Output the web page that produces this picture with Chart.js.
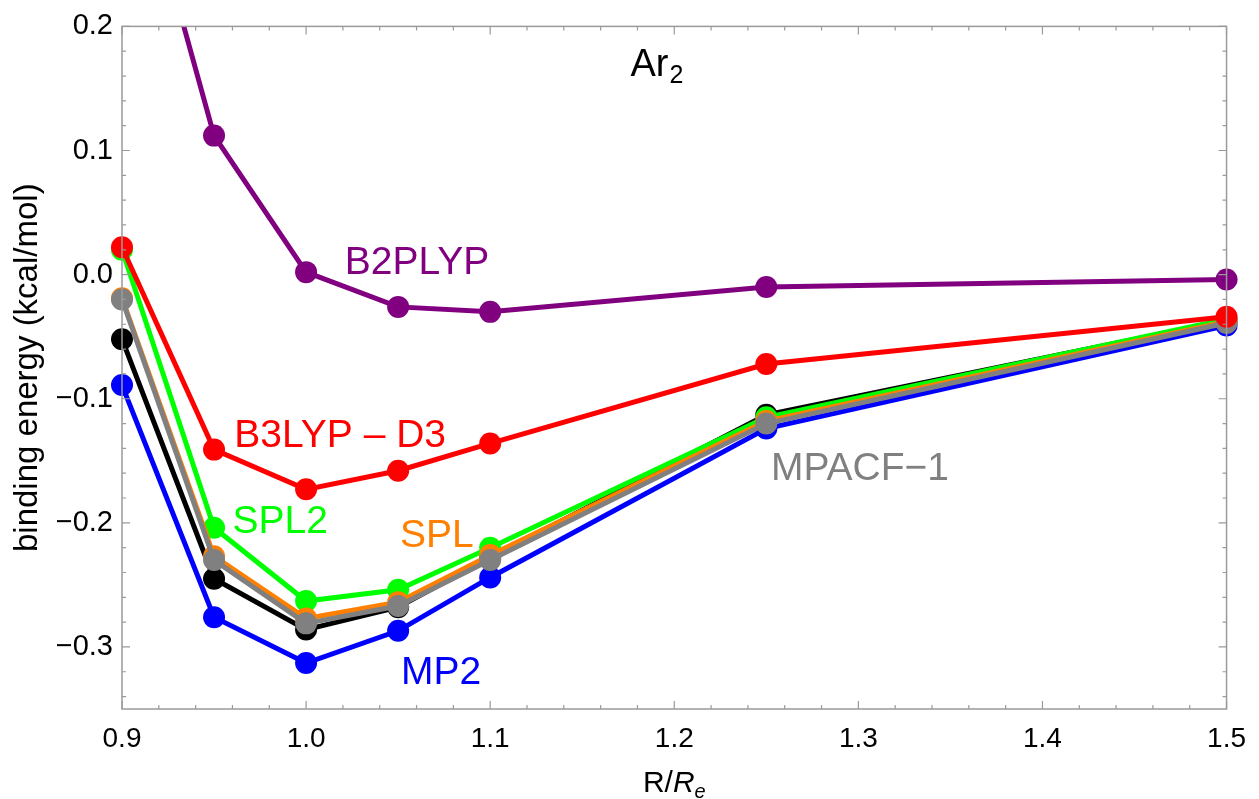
<!DOCTYPE html>
<html>
<head>
<meta charset="utf-8">
<script src="https://cdn.jsdelivr.net/npm/chart.js@4"></script>
<style>
  body { margin: 0; background: #fff; }
  #wrap { width: 1259px; height: 799px; }
</style>
</head>
<body>
<div id="wrap"><canvas id="chart" width="1259" height="799"></canvas></div>
<script>
// distances R/Re
const xs = [0.9, 0.95, 1.0, 1.05, 1.1, 1.25, 1.5];

// binding energies (kcal/mol)
const b2plyp = [0.38, 0.112, 0.002, -0.026, -0.030, -0.010, -0.004];
const b3lypD3 = [0.022, -0.141, -0.173, -0.158, -0.136, -0.072, -0.034];
const mp2 = [-0.089, -0.276, -0.313, -0.287, -0.244, -0.124, -0.041];
const reference = [-0.052, -0.245, -0.286, -0.268, -0.228, -0.113, -0.037];
const spl2 = [0.020, -0.204, -0.263, -0.254, -0.220, -0.115, -0.036];
const spl = [-0.019, -0.227, -0.277, -0.264, -0.226, -0.118, -0.038];
const mpacf1 = [-0.020, -0.230, -0.281, -0.267, -0.230, -0.120, -0.039];

const xTicks = [0.9, 1.0, 1.1, 1.2, 1.3, 1.4, 1.5];
const yTicks = [-0.3, -0.2, -0.1, 0.0, 0.1, 0.2];

// curve labels placed in data coordinates [text, x, y, colour]
const curveLabels = [
    ['B2PLYP', 1.021, 0.0006, '#800080'],
    ['B3LYP \u2013 D3', 0.961, -0.1385, '#ff0000'],
    ['SPL2', 0.960, -0.2085, '#00ff00'],
    ['SPL', 1.051, -0.2198, '#ff7f00'],
    ['MPACF\u22121', 1.2525, -0.1651, '#808080'],
    ['MP2', 1.0516, -0.3299, '#0000ff']
];

const FONT = "'Liberation Sans', Arial, sans-serif";
const FRAME = '#9a9a9a';

function series(label, ys, color, clip) {
    return {
        label: label,
        data: xs.map((x, i) => ({ x: x, y: ys[i] })),
        borderColor: color,
        backgroundColor: color,
        borderWidth: 5,
        pointRadius: 11,
        pointHoverRadius: 11,
        pointBorderWidth: 0,
        tension: 0,
        clip: clip === undefined ? false : clip
    };
}

function fmt(v) {
    const s = Math.abs(v).toFixed(1);
    return v < -1e-9 ? '\u2212' + s : s;
}

const frameTicks = {
    id: 'frameTicks',
    afterDraw(chart) {
        const ctx = chart.ctx;
        const a = chart.chartArea;
        const xs_ = chart.scales.x;
        const ys_ = chart.scales.y;
        ctx.save();
        ctx.strokeStyle = FRAME;
        ctx.lineWidth = 1.5;
        ctx.strokeRect(a.left, a.top, a.right - a.left, a.bottom - a.top);
        ctx.lineWidth = 1.2;
        ctx.beginPath();
        for (let i = 0; i <= 30; i++) {
            const v = 0.9 + i * 0.02;
            const len = i % 5 === 0 ? 8 : 4;
            const px = xs_.getPixelForValue(v);
            ctx.moveTo(px, a.bottom); ctx.lineTo(px, a.bottom - len);
            ctx.moveTo(px, a.top); ctx.lineTo(px, a.top + len);
        }
        for (let i = 0; i <= 27; i++) {
            const v = -0.34 + i * 0.02;
            const len = Math.abs(Math.round(v * 100)) % 10 === 0 ? 8 : 4;
            const py = ys_.getPixelForValue(v);
            ctx.moveTo(a.left, py); ctx.lineTo(a.left + len, py);
            ctx.moveTo(a.right, py); ctx.lineTo(a.right - len, py);
        }
        ctx.stroke();

        // curve labels
        ctx.textBaseline = 'alphabetic';
        ctx.textAlign = 'left';
        ctx.font = '39px ' + FONT;
        curveLabels.forEach(([t, x, y, c]) => {
            ctx.fillStyle = c;
            ctx.fillText(t, xs_.getPixelForValue(x), ys_.getPixelForValue(y));
        });

        // Ar2 title
        ctx.fillStyle = '#000';
        const ax = xs_.getPixelForValue(1.1762);
        const ay = ys_.getPixelForValue(0.1598);
        ctx.font = '38px ' + FONT;
        ctx.fillText('Ar', ax, ay);
        const w = ctx.measureText('Ar').width;
        ctx.font = '25px ' + FONT;
        ctx.fillText('2', ax + w + 1, ay + 7);

        // x axis title R/Re
        ctx.font = '30px ' + FONT;
        const w1 = ctx.measureText('R/').width;
        ctx.font = 'italic 30px ' + FONT;
        const w2 = ctx.measureText('R').width;
        ctx.font = 'italic 20px ' + FONT;
        const w3 = ctx.measureText('e').width;
        let tx = (a.left + a.right) / 2 - (w1 + w2 + w3) / 2;
        const ty = 792;
        ctx.font = '30px ' + FONT;
        ctx.fillText('R/', tx, ty);
        tx += w1;
        ctx.font = 'italic 30px ' + FONT;
        ctx.fillText('R', tx, ty);
        tx += w2;
        ctx.font = 'italic 20px ' + FONT;
        ctx.fillText('e', tx, ty + 6);
        ctx.restore();
    }
};

new Chart(document.getElementById('chart'), {
    type: 'line',
    data: {
        datasets: [
            series('B3LYP-D3', b3lypD3, '#ff0000'),
            series('MPACF-1', mpacf1, '#808080'),
            series('SPL', spl, '#ff7f00'),
            series('SPL2', spl2, '#00ff00'),
            series('reference', reference, '#000000'),
            series('MP2', mp2, '#0000ff'),
            series('B2PLYP', b2plyp, '#800080', { left: false, top: 0, right: false, bottom: false })
        ]
    },
    options: {
        responsive: false,
        animation: false,
        events: [],
        layout: { padding: { top: 25, right: 29, left: 0, bottom: 0 } },
        plugins: {
            legend: { display: false },
            tooltip: { enabled: false }
        },
        scales: {
            x: {
                type: 'linear',
                min: 0.9,
                max: 1.5,
                grid: { display: false, drawTicks: false },
                border: { display: false },
                afterBuildTicks: s => { s.ticks = xTicks.map(v => ({ value: v })); },
                afterFit: s => { s.height = 90; },
                ticks: {
                    padding: 13,
                    color: '#000',
                    font: { family: FONT, size: 28 },
                    maxRotation: 0,
                    callback: v => fmt(v)
                }
            },
            y: {
                type: 'linear',
                min: -0.35,
                max: 0.2,
                grid: { display: false, drawTicks: false },
                border: { display: false },
                afterBuildTicks: s => { s.ticks = yTicks.map(v => ({ value: v })); },
                afterFit: s => { s.width = 122; },
                title: {
                    display: true,
                    text: 'binding energy (kcal/mol)',
                    color: '#000',
                    font: { family: FONT, size: 33 },
                    padding: { top: 8, bottom: 0 }
                },
                ticks: {
                    padding: 9,
                    color: '#000',
                    font: { family: FONT, size: 29 },
                    callback: v => fmt(v)
                }
            }
        }
    },
    plugins: [frameTicks]
});
</script>
</body>
</html>
